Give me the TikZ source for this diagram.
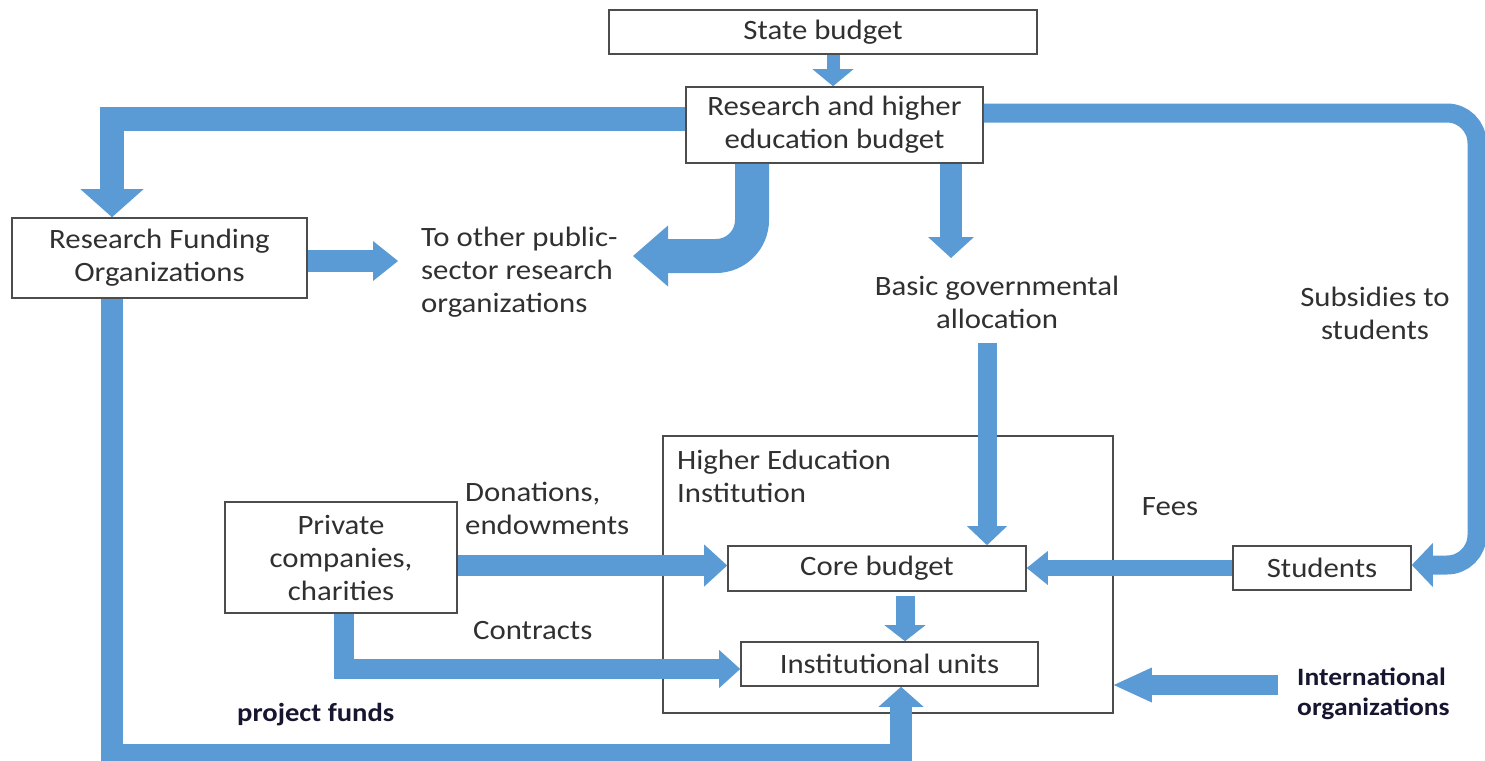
\documentclass[tikz,border=0pt]{standalone}
\usepackage{fontspec}
\setmainfont[FakeStretch=1.1]{Carlito}
\usetikzlibrary{arrows.meta}
\definecolor{flowblue}{HTML}{5B9BD5}
\definecolor{txt}{HTML}{303030}
\definecolor{navy}{HTML}{161630}
\tikzset{
  box/.style={draw=black!70, line width=1.6pt, fill=white, text=txt, align=center, inner sep=0pt, font=\fontsize{28}{33}\selectfont},
  lbl/.style={text=txt, inner sep=0pt, font=\fontsize{28}{33}\selectfont},
  blbl/.style={text=navy, inner sep=0pt, align=left, font=\fontsize{25}{30}\selectfont\bfseries},
  flow/.style={draw=flowblue, line width=#1, line cap=butt, line join=miter},
  hd/.style 2 args={-{Triangle[width=#1,length=#2,line width=0pt]}},
}
\begin{document}
\begin{tikzpicture}[x=1pt,y=-1pt]
\useasboundingbox (0,0) rectangle (1485,760);
\clip (0,0) rectangle (1485,760);
% container
\node[draw=black!70, line width=1.6pt, minimum width=450pt, minimum height=277pt, inner sep=0pt] (hei) at (888,574.5) {};
% boxes
\node[box, minimum width=428pt, minimum height=44pt] (sb) at (823,32) {State budget};
\node[box, minimum width=297pt, minimum height=76pt] (rhe) at (834.5,125) {Research and higher\\education budget};
\node[box, minimum width=295pt, minimum height=80pt] (rfo) at (159.5,258) {Research Funding\\Organizations};
\node[box, minimum width=298pt, minimum height=45pt] (core) at (877,568.5) {Core budget};
\node[box, minimum width=297pt, minimum height=44pt] (units) at (889.5,664) {Institutional units};
\node[box, minimum width=232pt, minimum height=111pt] (pc) at (341,557.5) {Private\\companies,\\charities};
\node[box, minimum width=178pt, minimum height=44pt] (stu) at (1322,568) {Students};
% labels
\node[lbl, align=left, anchor=west] (other) at (421,272) {To other public-\\sector research\\organizations};
\node[lbl, align=center] (basic) at (997,302) {Basic governmental\\allocation};
\node[lbl, align=center] (subs) at (1375,313) {Subsidies to\\students};
\node[lbl, align=left, anchor=west] (heil) at (677,476) {Higher Education\\Institution};
\node[lbl, align=left, anchor=west] (don) at (465,508) {Donations,\\endowments};
\node[lbl, anchor=west] (contr) at (473,631) {Contracts};
\node[lbl] (fees) at (1170,507) {Fees};
\node[blbl, anchor=west] (intl) at (1297,694) {International\\organizations};
\node[blbl, anchor=west, font=\fontsize{26}{30}\selectfont\bfseries] (pf) at (237,715) {project funds};
% coordinates
\coordinate (otherL) at (398,261);
\coordinate (otherR) at (633,256);
\coordinate (basicN) at (951,258);
\coordinate (basicS) at (987,343);
\coordinate (pcE) at ([yshift=-8pt]pc.east);
\coordinate (pcS) at ([xshift=3pt]pc.south);
\coordinate (unitsW) at ([yshift=-5pt]units.west);
\coordinate (unitsS) at ([xshift=11.5pt]units.south);
\coordinate (rfoS) at ([xshift=-47.5pt]rfo.south);
\coordinate (bot) at (500,755);
\coordinate (rheE) at ([yshift=12pt]rhe.east);
\coordinate (rcorner) at (1477,400);
\coordinate (stuE) at ([yshift=3pt]stu.east);
\coordinate (intlS) at (1278,685);
% arrows
\draw[flow=13pt, hd={41pt}{17pt}] ([xshift=10pt]sb.south) -- ([xshift=-1.5pt]rhe.north);
\draw[flow=24pt, hd={63pt}{28pt}] ([yshift=6.5pt]rhe.west) -| ([xshift=-47.5pt]rfo.north);
\draw[flow=22pt, hd={40pt}{25pt}] ([yshift=-3pt]rfo.east) -- (otherL);
\draw[flow=34pt, hd={61pt}{35pt}, rounded corners=36pt] ([xshift=-82.5pt]rhe.south) |- (otherR);
\draw[flow=22pt, hd={46pt}{21pt}] ([xshift=116.5pt]rhe.south) -- (basicN);
\draw[flow=19pt, hd={40pt}{19pt}] (basicS) -- ([xshift=110pt]core.north);
\draw[flow=19pt, hd={41pt}{16pt}] ([xshift=28pt,yshift=-4pt]core.south) -- ([xshift=15.5pt]units.north);
\draw[flow=21pt, hd={42pt}{23pt}] (pcE) -- (pcE -| core.west);
\draw[flow=20pt, hd={38pt}{21pt}] (pcS) |- (unitsW);
\draw[flow=22pt, hd={45pt}{20pt}] (rfoS) |- (bot) -| (unitsS);
\draw[flow=19pt, hd={44pt}{21pt}, rounded corners=30pt] (rheE) -| (rcorner) |- (stuE);
\draw[flow=16pt, hd={34pt}{21pt}] (stu.west) -- (stu.west -| core.east);
\draw[flow=20pt, hd={35pt}{38pt}] (intlS) -- (intlS -| hei.east);
\end{tikzpicture}
\end{document}
